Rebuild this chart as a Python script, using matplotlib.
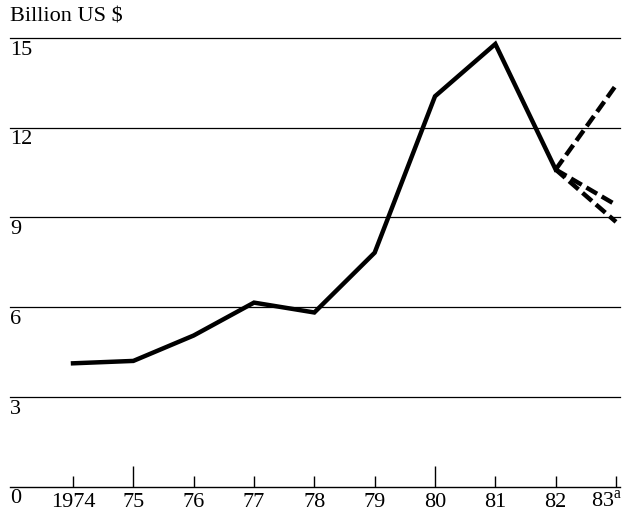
import matplotlib.pyplot as plt
from matplotlib.ticker import FixedLocator
from matplotlib.transforms import offset_copy

plt.rcParams['font.family'] = 'Liberation Serif'
plt.rcParams['mathtext.fontset'] = 'custom'
plt.rcParams['mathtext.rm'] = 'Liberation Serif'

years = [1974, 1975, 1976, 1977, 1978, 1979, 1980, 1981, 1982]
values = [4.12, 4.2, 5.05, 6.15, 5.82, 7.82, 13.05, 14.8, 10.6]

# 1983 projections, all starting from the 1982 value
proj_years = [1982, 1983]
proj_high = [10.6, 13.42]
proj_mid = [10.6, 9.42]
proj_low = [10.6, 8.85]

xticks = [1974, 1975, 1976, 1977, 1978, 1979, 1980, 1981, 1982]
xlabels = ['1974', '75', '76', '77', '78', '79', '80', '81', '82']
last_label = '83$^{\\mathrm{a}}$'
major_years = [1975, 1980]
minor_years = [1974, 1976, 1977, 1978, 1979, 1981, 1982, 1983]
yticks = [0, 3, 6, 9, 12, 15]

W, H = 623, 513
fig = plt.figure(figsize=(W / 100, H / 100), dpi=100)
ax = fig.add_axes([10 / W, (H - 486.5) / H, 610 / W, (486.5 - 38) / H])

x0 = 1974 - 63 / 60.33
x1 = 1983 + 4 / 60.33
ax.set_xlim(x0, x1)
ax.set_ylim(0, 15)

for y in yticks[1:]:
    ax.axhline(y, color='black', lw=0.9, zorder=1, clip_on=False)

ax.plot(years, values, color='black', lw=3.2, solid_joinstyle='miter',
        zorder=3, clip_on=False)
for proj in (proj_high, proj_mid, proj_low):
    ax.plot(proj_years, proj, color='black', lw=3.2, ls=(0, (2.8, 1.2)),
            zorder=3, clip_on=False)

for s in ['top', 'right', 'left']:
    ax.spines[s].set_visible(False)
ax.spines['bottom'].set_linewidth(1.0)

ax.xaxis.set_major_locator(FixedLocator(major_years))
ax.xaxis.set_minor_locator(FixedLocator(minor_years))
ax.tick_params(axis='x', which='major', direction='in', length=15, width=1.0,
               labelbottom=False)
ax.tick_params(axis='x', which='minor', direction='in', length=8, width=1.0,
               labelbottom=False)
ax.set_yticks([])

xtrans = offset_copy(ax.transData, fig=fig, x=0, y=-4.5, units='points')
for x, lab in zip(xticks, xlabels):
    ax.text(x, 0, lab, ha='center', va='top', fontsize=16, transform=xtrans)
fig.text(1 - 1 / W, (H - 491) / H, last_label, ha='right', va='top', fontsize=16)

# y labels sit just below their gridlines at the left edge
trans = offset_copy(ax.get_yaxis_transform(), fig=fig, x=0, y=-2, units='points')
for y in yticks:
    ax.text(0, y, str(y), ha='left', va='top', fontsize=16, transform=trans)

fig.text(10 / W, 1 - 17 / H, 'Billion US $', ha='left', va='center', fontsize=16)

fig.savefig('out.png', dpi=100)
